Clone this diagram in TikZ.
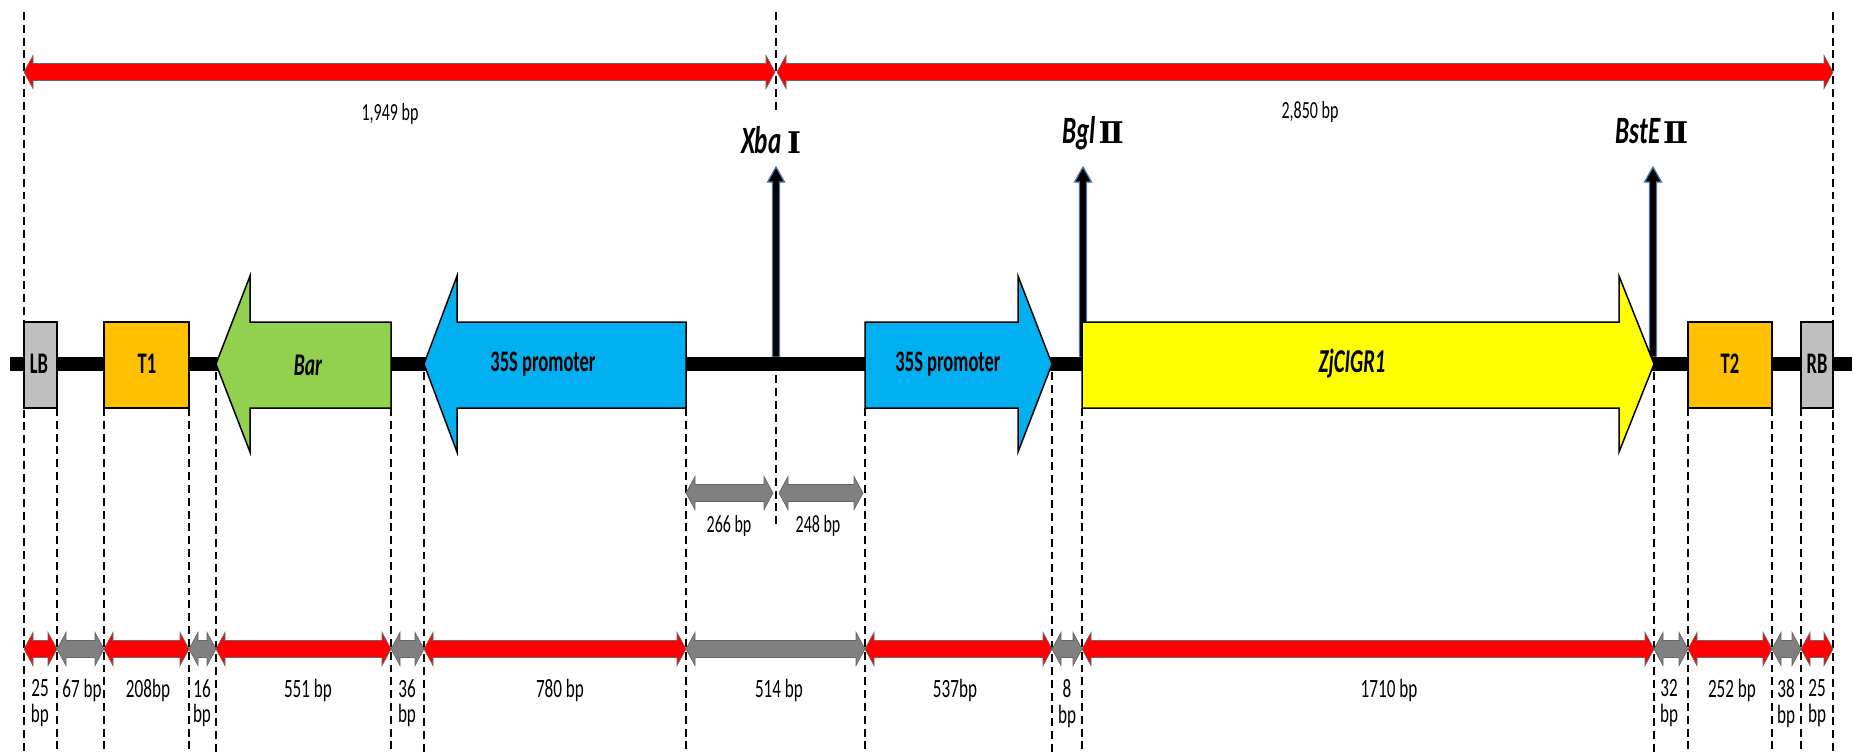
\documentclass[tikz,border=0pt]{standalone}
\usepackage{fontspec}
\setmainfont{Carlito}[FakeStretch=0.65]
\newfontfamily\partfont{Carlito}[FakeStretch=0.62]
\newfontfamily\romanfont{DejaVu Serif}
\definecolor{segred}{HTML}{FF0000}
\definecolor{seggray}{HTML}{808080}
\definecolor{bordergray}{HTML}{BFBFBF}
\definecolor{termorange}{HTML}{FFC000}
\definecolor{bargreen}{HTML}{92D050}
\definecolor{promblue}{HTML}{00B0F0}
\definecolor{geneyellow}{HTML}{FFFF00}
\definecolor{siteblue}{HTML}{4A76A8}
\begin{document}
\begin{tikzpicture}[x=0.02cm,y=-0.02cm,line join=miter,
		boundary/.style={dash pattern=on 4.5pt off 2.8pt,line width=1.1pt},
		partbox/.style={draw=black,line width=0.85pt},
		partlabel/.style={font=\fontsize{17}{19}\selectfont\partfont\bfseries},
		bplabel/.style={font=\fontsize{14}{14.7}\selectfont,align=center,inner sep=0pt,anchor=north},
		sitelabel/.style={font=\fontsize{22}{24}\selectfont\bfseries\itshape,inner sep=0pt,anchor=base}]
				\useasboundingbox (0,0) rectangle (1862,752);
				
				\def\lenarrow#1#2#3#4{\filldraw[fill=#4,draw=black!60,line width=0.4pt] (#1,#3) -- ({#1+9},{#3-16.5}) -- ({#1+9},{#3-8.5}) -- ({#2-9},{#3-8.5}) -- ({#2-9},{#3-16.5}) -- (#2,#3) -- ({#2-9},{#3+16.5}) -- ({#2-9},{#3+8.5}) -- ({#1+9},{#3+8.5}) -- ({#1+9},{#3+16.5}) -- cycle;}
				\def\sitearrow#1{\filldraw[fill=black,draw=siteblue,line width=0.7pt] ({#1-3.5},357) -- ({#1-3.5},182) -- ({#1-8.5},182) -- (#1,167) -- ({#1+8.5},182) -- ({#1+3.5},182) -- ({#1+3.5},357) -- cycle;}
				\def\numeral#1{{\fontsize{17}{18}\selectfont\romanfont\upshape #1}}
				
				\foreach \x in {24,1833}
					\draw[boundary] (\x,12) -- (\x,752);
				\foreach \x in {57,104,189,391,686,865,1082,1688,1772,1801}
					\draw[boundary] (\x,408) -- (\x,752);
				\foreach \x in {216,424,1052,1654}
					\draw[boundary] (\x,372) -- (\x,752);
				\draw[boundary] (776,12) -- (776,112);
				\draw[boundary] (776,170) -- (776,527);
				
				\lenarrow{24}{775}{72}{segred}
				\lenarrow{777}{1833}{72}{segred}
				\node[bplabel] (len1949) at (390,103) {1,949 bp};
				\node[bplabel] (len2850) at (1310,101) {2,850 bp};
				
				\sitearrow{776}
				\sitearrow{1083}
				\sitearrow{1653}
				\node[sitelabel] (xba) at (771,153) {Xba\ \numeral{Ⅰ}};
				\node[sitelabel] (bgl) at (1093,143) {Bgl\kern1.5pt\numeral{Ⅱ}};
				\node[sitelabel] (bste) at (1652,143) {BstE\kern1.5pt\numeral{Ⅱ}};
				
				\draw[line width=8.5pt] (10,364) -- (1852,364);
				
				\filldraw[partbox,fill=bordergray] (24,322) rectangle (57,408);
				\node[partlabel] (lb) at (39,364) {LB};
				\filldraw[partbox,fill=termorange] (104,322) rectangle (189,408);
				\node[partlabel] (tone) at (147,364) {T1};
				\filldraw[partbox,fill=bargreen] (391,322) -- (250,322) -- (250,276) -- (216,364) -- (250,452) -- (250,408) -- (391,408) -- cycle;
				\node[partlabel,font=\fontsize{18}{19}\selectfont\partfont\bfseries\itshape] (bar) at (308,365) {Bar};
				\filldraw[partbox,fill=promblue] (686,322) -- (457,322) -- (457,276) -- (424,364) -- (457,452) -- (457,408) -- (686,408) -- cycle;
				\node[partlabel] (promleft) at (543,364) {35S promoter};
				\filldraw[partbox,fill=promblue] (865,322) -- (1018,322) -- (1018,276) -- (1052,364) -- (1018,452) -- (1018,408) -- (865,408) -- cycle;
				\node[partlabel] (promright) at (948,364) {35S promoter};
				\filldraw[partbox,fill=geneyellow] (1082,322) -- (1619,322) -- (1619,276) -- (1654,364) -- (1619,452) -- (1619,408) -- (1082,408) -- cycle;
				\node[partlabel,font=\fontsize{19}{20}\selectfont\partfont\bfseries\itshape] (gene) at (1352,364) {ZjCIGR1};
				\filldraw[partbox,fill=termorange] (1688,322) rectangle (1772,408);
				\node[partlabel] (ttwo) at (1730,364) {T2};
				\filldraw[partbox,fill=bordergray] (1801,322) rectangle (1833,408);
				\node[partlabel] (rb) at (1817,364) {RB};
				
				\lenarrow{686}{773}{493}{seggray}
				\lenarrow{779}{863}{493}{seggray}
				\node[bplabel] (mid266) at (729,515) {266 bp};
				\node[bplabel] (mid248) at (818,515) {248 bp};
				
				\foreach \xa/\xb/\col/\xl/\txt [count=\i] in {24/57/segred/40/{25\\bp},57/104/seggray/82/{67 bp},104/189/segred/148/{208bp},189/216/seggray/202/{16\\bp},216/391/segred/308/{551 bp},391/424/seggray/407/{36\\bp},424/686/segred/560/{780 bp},686/865/seggray/779/{514 bp},865/1052/segred/955/{537bp},1052/1082/seggray/1067/{8\\bp},1082/1654/segred/1389/{1710 bp},1654/1688/seggray/1669/{32\\bp},1688/1772/segred/1732/{252 bp},1772/1801/seggray/1786/{38\\bp},1801/1833/segred/1817/{25\\bp}} {
					\lenarrow{\xa}{\xb}{649}{\col}
					\node[bplabel,font=\fontsize{15}{14.7}\selectfont] (seg\i) at (\xl,679) {\txt};
				}
			\end{tikzpicture}
\end{document}
